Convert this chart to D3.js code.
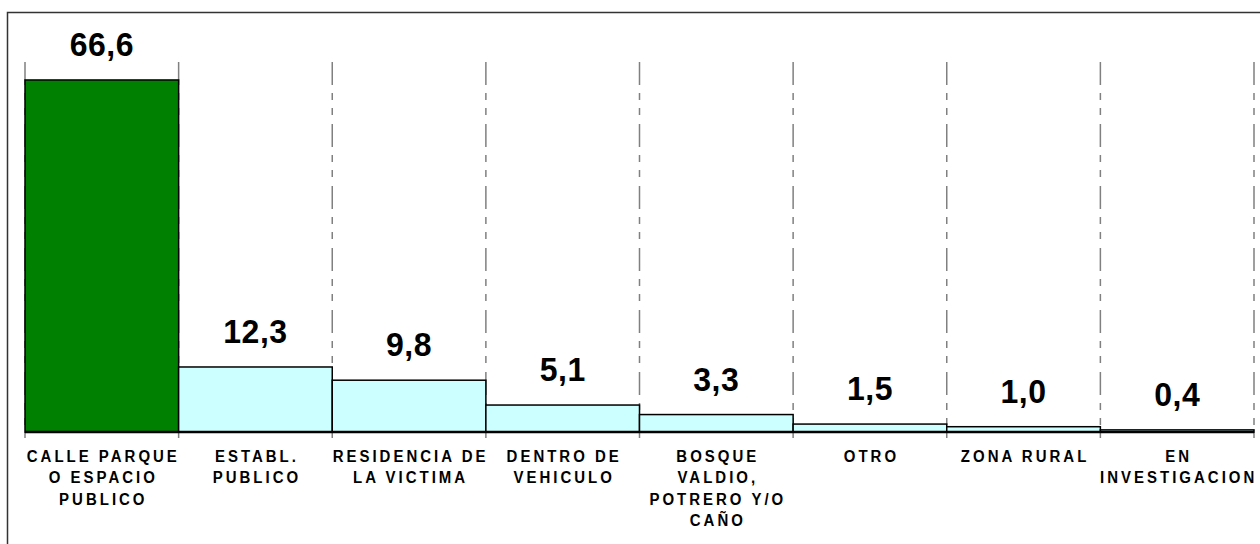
<!DOCTYPE html>
<html>
<head>
<meta charset="utf-8">
<script src="https://cdn.jsdelivr.net/npm/d3@7"></script>
<style>
  body { margin: 0; background: #fff; }
  svg { display: block; }
  text { font-family: Arial, "Liberation Sans", sans-serif; font-weight: bold; fill: #000; }
</style>
</head>
<body>
<script>
(function () {
  'use strict';

  // categorias (lineas de cada etiqueta)
  const categories = [
    ['CALLE PARQUE', 'O ESPACIO', 'PUBLICO'],
    ['ESTABL.', 'PUBLICO'],
    ['RESIDENCIA DE', 'LA VICTIMA'],
    ['DENTRO DE', 'VEHICULO'],
    ['BOSQUE', 'VALDIO,', 'POTRERO Y/O', 'CAÑO'],
    ['OTRO'],
    ['ZONA RURAL'],
    ['EN', 'INVESTIGACION']
  ];
  const values = [66.6, 12.3, 9.8, 5.1, 3.3, 1.5, 1.0, 0.4];
  const valueLabels = ['66,6', '12,3', '9,8', '5,1', '3,3', '1,5', '1,0', '0,4'];
  const fills = ['#008000', '#CCFFFF', '#CCFFFF', '#CCFFFF', '#CCFFFF', '#CCFFFF', '#CCFFFF', '#CCFFFF'];

  const W = 1260, H = 544;
  const plot = { left: 25, right: 1254, top: 62, bottom: 432 };

  const svg = d3.select('body')
    .append('svg')
    .attr('width', W)
    .attr('height', H);

  // marco exterior
  svg.append('rect')
    .attr('x', 7.5)
    .attr('y', 12.5)
    .attr('width', W + 20)
    .attr('height', H + 20)
    .attr('fill', 'none')
    .attr('stroke', '#333')
    .attr('stroke-width', 1.5);

  const keys = categories.map((c, i) => i);

  const x = d3.scaleBand()
    .domain(keys)
    .range([plot.left, plot.right])
    .padding(0);

  const y = d3.scaleLinear()
    .domain([0, 70])
    .range([plot.bottom, plot.top]);

  // lineas de division
  const bounds = keys.map(k => x(k)).concat([x(keys[keys.length - 1]) + x.bandwidth()]);

  svg.append('g')
    .selectAll('line')
    .data(bounds)
    .enter()
    .append('line')
    .attr('x1', d => d)
    .attr('x2', d => d)
    .attr('y1', y(70))
    .attr('y2', y(0))
    .attr('stroke', '#808080')
    .attr('stroke-width', 1.5)
    .attr('stroke-dasharray', '23,8,7,8,7,9');

  // marcas bajo el eje
  svg.append('g')
    .selectAll('line')
    .data(bounds)
    .enter()
    .append('line')
    .attr('x1', d => d)
    .attr('x2', d => d)
    .attr('y1', y(0))
    .attr('y2', y(0) + 6)
    .attr('stroke', '#808080')
    .attr('stroke-width', 1.5);

  // barras
  svg.append('g')
    .selectAll('rect')
    .data(values)
    .enter()
    .append('rect')
    .attr('x', (d, i) => x(i))
    .attr('y', d => y(d))
    .attr('width', x.bandwidth())
    .attr('height', d => y(0) - y(d))
    .attr('fill', (d, i) => fills[i])
    .attr('stroke', '#000')
    .attr('stroke-width', 1.5);

  // eje
  svg.append('line')
    .attr('x1', plot.left)
    .attr('x2', plot.right)
    .attr('y1', y(0))
    .attr('y2', y(0))
    .attr('stroke', '#000')
    .attr('stroke-width', 2.5);

  // valores
  svg.append('g')
    .selectAll('text')
    .data(values)
    .enter()
    .append('text')
    .attr('transform', (d, i) => `translate(${x(i) + x.bandwidth() / 2},${y(d) - 24}) scale(1,1.05)`)
    .attr('text-anchor', 'middle')
    .attr('font-size', '32px')
    .attr('letter-spacing', '0.5px')
    .text((d, i) => valueLabels[i]);

  // etiquetas de categoria
  const spacing = 3;
  const stretch = 1.12;
  const cat = svg.append('g')
    .selectAll('text')
    .data(categories)
    .enter()
    .append('text')
    .attr('transform', (d, i) => `translate(${x(i) + x.bandwidth() / 2 + spacing / 2},462) scale(1,${stretch})`)
    .attr('font-size', '15px')
    .attr('letter-spacing', spacing + 'px')
    .attr('text-anchor', 'middle');

  cat.selectAll('tspan')
    .data(d => d)
    .enter()
    .append('tspan')
    .attr('x', 0)
    .attr('y', (d, j) => j * 21.4 / stretch)
    .text(d => d);
})();
</script>
</body>
</html>
